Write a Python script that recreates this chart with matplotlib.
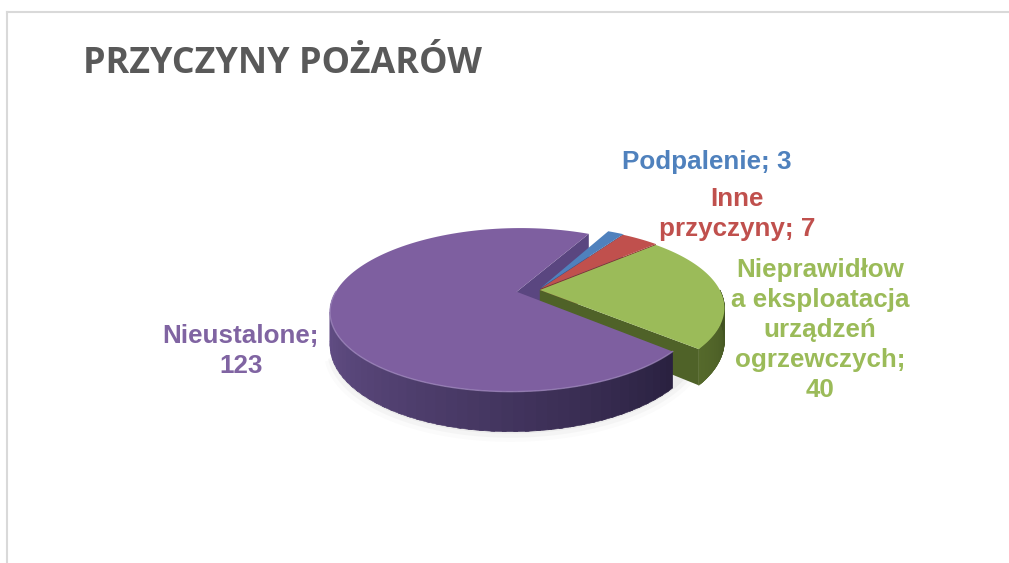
import numpy as np
import matplotlib
matplotlib.use('Agg')
import matplotlib.pyplot as plt
from matplotlib.patches import Polygon

# dane
categories = ['Podpalenie', 'Inne\nprzyczyny', 'Nieprawidłow\na eksploatacja\nurządzeń\nogrzewczych', 'Nieustalone']
values = [3, 7, 40, 123]
separators = ['; ', '; ', ';\n', ';\n']
top_colors = ['#4F81BD', '#C0504D', '#9BBB59', '#7E5FA0']
face_colors = ['#2F5687', '#842F2D', '#4F6228', '#5A4680']
label_colors = ['#4F81BD', '#C0504D', '#9BBB59', '#8064A2']
explode = [0.03, 0.02, 0.01, 0.12]
start_angle = 63

# rzut "3D"
CX, CY = 538, 290
RX, RY, HZ, PERSP = 180, 77, 31, 0.22


def proj(u, v, z=0.0):
    w = 1 + PERSP * v
    return CX + RX * u / w, CY - RY * v / w - HZ * z / w


def arc(ox, oy, a1, a2, z=0.0, n=80):
    t = np.radians(np.linspace(a1, a2, n))
    return [proj(ox + np.cos(a), oy + np.sin(a), z) for a in t]


fig = plt.figure(figsize=(10.09, 5.63), dpi=100)
ax = fig.add_axes([0, 0, 1, 1])
ax.set_xlim(0, 1009)
ax.set_ylim(563, 0)
ax.axis('off')

# ramka
ax.plot([6.5, 1009], [11.5, 11.5], color='#D9D9D9', lw=1.5)
ax.plot([6.5, 6.5], [11.5, 563], color='#D9D9D9', lw=1.5)

ax.text(83, 73, 'PRZYCZYNY POŻARÓW', fontsize=25.8, fontweight='bold', color='#595959',
        family='Open Sans', va='baseline')

total = sum(values)
slices = []
a = start_angle
for i, v in enumerate(values):
    span = 360.0 * v / total
    hi, lo = a, a - span
    mid = np.radians((hi + lo) / 2)
    ox, oy = explode[i] * np.cos(mid), explode[i] * np.sin(mid)
    slices.append((lo, hi, ox, oy))
    a = lo

# cien
po = slices[3]
for k, al in enumerate([0.07, 0.05, 0.03]):
    s = 1.0 + 0.015 * k
    pts = [proj(po[2] + s * np.cos(t), po[3] + s * np.sin(t), -1) for t in np.radians(np.linspace(200, 340, 100))]
    pts = [(x, y + 2 + 2 * k) for x, y in pts]
    ax.add_patch(Polygon(pts + [proj(po[2], po[3], -1)], closed=True, color='#808080', alpha=al, lw=0))


def cut_face(i, ang):
    lo, hi, ox, oy = slices[i]
    t = np.radians(ang)
    pts = [proj(ox, oy, 0), proj(ox + np.cos(t), oy + np.sin(t), 0),
           proj(ox + np.cos(t), oy + np.sin(t), -1), proj(ox, oy, -1)]
    ax.add_patch(Polygon(pts, closed=True, color=face_colors[i], lw=0))


def outer_wall(i, c1, c2):
    lo, hi, ox, oy = slices[i]
    a1, a2 = max(lo, -180), min(hi, 0)
    if a1 >= a2:
        return
    edges = np.linspace(a1, a2, 50)
    for k in range(len(edges) - 1):
        f = (k / (len(edges) - 2)) ** 1.2
        col = np.array(matplotlib.colors.to_rgb(c1)) * (1 - f) + np.array(matplotlib.colors.to_rgb(c2)) * f
        e2 = min(edges[k + 1] + 1.0, a2)
        top = arc(ox, oy, edges[k], e2, 0, 4)
        bot = arc(ox, oy, e2, edges[k], -1, 4)
        ax.add_patch(Polygon(top + bot, closed=True, facecolor=col, edgecolor=col, lw=0.4))


def top_face(i):
    lo, hi, ox, oy = slices[i]
    pts = [proj(ox, oy, 0)] + arc(ox, oy, lo, hi, 0, 120)
    ax.add_patch(Polygon(pts, closed=True, color=top_colors[i], lw=0))


# kolejnosc rysowania: od tylu do przodu
cut_face(3, slices[3][0])
for i in [0, 1, 2]:
    cut_face(i, slices[i][0])
    outer_wall(i, '#55692B', '#3E4E1F')
    top_face(i)
outer_wall(3, '#66518A', '#2A2140')
top_face(3)
lo, hi, ox, oy = slices[3]
rim = arc(ox, oy, -180, hi, 0, 100)
ax.plot([p[0] for p in rim], [p[1] for p in rim], color='#A28BC0', lw=1, alpha=0.7)

# etykiety
label_pos = [(707, 169), (737, 206), (820, 277), (241, 343)]
for i in range(len(values)):
    txt = categories[i] + separators[i] + str(values[i])
    x, y = label_pos[i]
    for k, line in enumerate(txt.split('\n')):
        ax.text(x, y + 30 * k, line, fontsize=18.7, fontweight='bold', color=label_colors[i],
                family='Liberation Sans', ha='center', va='baseline')

plt.savefig('out.png', dpi=100)
